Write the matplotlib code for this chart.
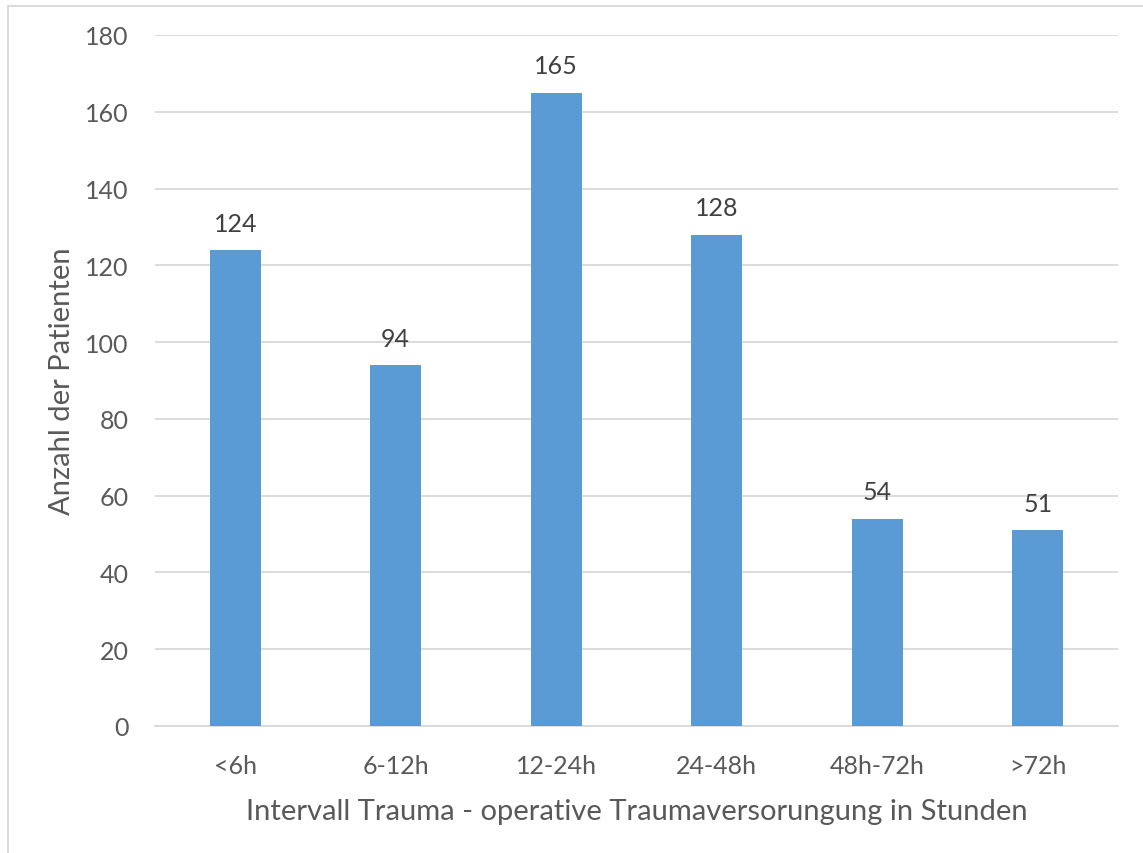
import matplotlib

matplotlib.use("Agg")
import matplotlib.pyplot as plt
from matplotlib.lines import Line2D
import numpy as np

plt.rcParams["font.family"] = ["Lato", "DejaVu Sans"]

# Patienten je Intervall zwischen Trauma und OP
kategorien = ["<6h", "6-12h", "12-24h", "24-48h", "48h-72h", ">72h"]
anzahl = [124, 94, 165, 128, 54, 51]
y_ticks = [0, 20, 40, 60, 80, 100, 120, 140, 160, 180]

BAR = "#5B9BD5"
TXT = "#595959"

fig = plt.figure(figsize=(11.43, 8.54), dpi=100)
ax = fig.add_axes([155 / 1143, 1 - 727 / 854, (1118 - 155) / 1143, (727 - 36) / 854])

x = np.arange(len(kategorien))
bars = ax.bar(x, anzahl, width=0.32, color=BAR, zorder=3)
for rect, v in zip(bars, anzahl):
    ax.text(rect.get_x() + rect.get_width() / 2, v + 4, f"{v}",
            ha="center", va="bottom", fontsize=18, color="#404040")

ax.set_xlim(-0.5, len(kategorien) - 0.5)
ax.set_ylim(0, 180)
ax.set_yticks(y_ticks)
ax.set_xticks(x)
ax.set_xticklabels(kategorien)
ax.tick_params(axis="both", length=0, labelsize=18, labelcolor=TXT)
ax.tick_params(axis="y", pad=19)
ax.tick_params(axis="x", pad=20)
ax.grid(axis="y", color="#D9D9D9", linewidth=1.3, zorder=0)
for s in ["top", "right", "left"]:
    ax.spines[s].set_visible(False)
ax.spines["bottom"].set_color("#D9D9D9")
ax.spines["bottom"].set_linewidth(1.3)

ax.set_xlabel("Intervall Trauma - operative Traumaversorungung in Stunden",
              fontsize=21, color=TXT, labelpad=15)
ax.set_ylabel("Anzahl der Patienten", fontsize=21, color=TXT, labelpad=7)

# Rahmen links und oben
fig.add_artist(Line2D([8 / 1143, 8 / 1143], [0, 1 - 7 / 854], color="#D9D9D9", lw=1.3))
fig.add_artist(Line2D([8 / 1143, 1], [1 - 7 / 854, 1 - 7 / 854], color="#D9D9D9", lw=1.3))

fig.savefig("out.png", dpi=100, facecolor="white")
